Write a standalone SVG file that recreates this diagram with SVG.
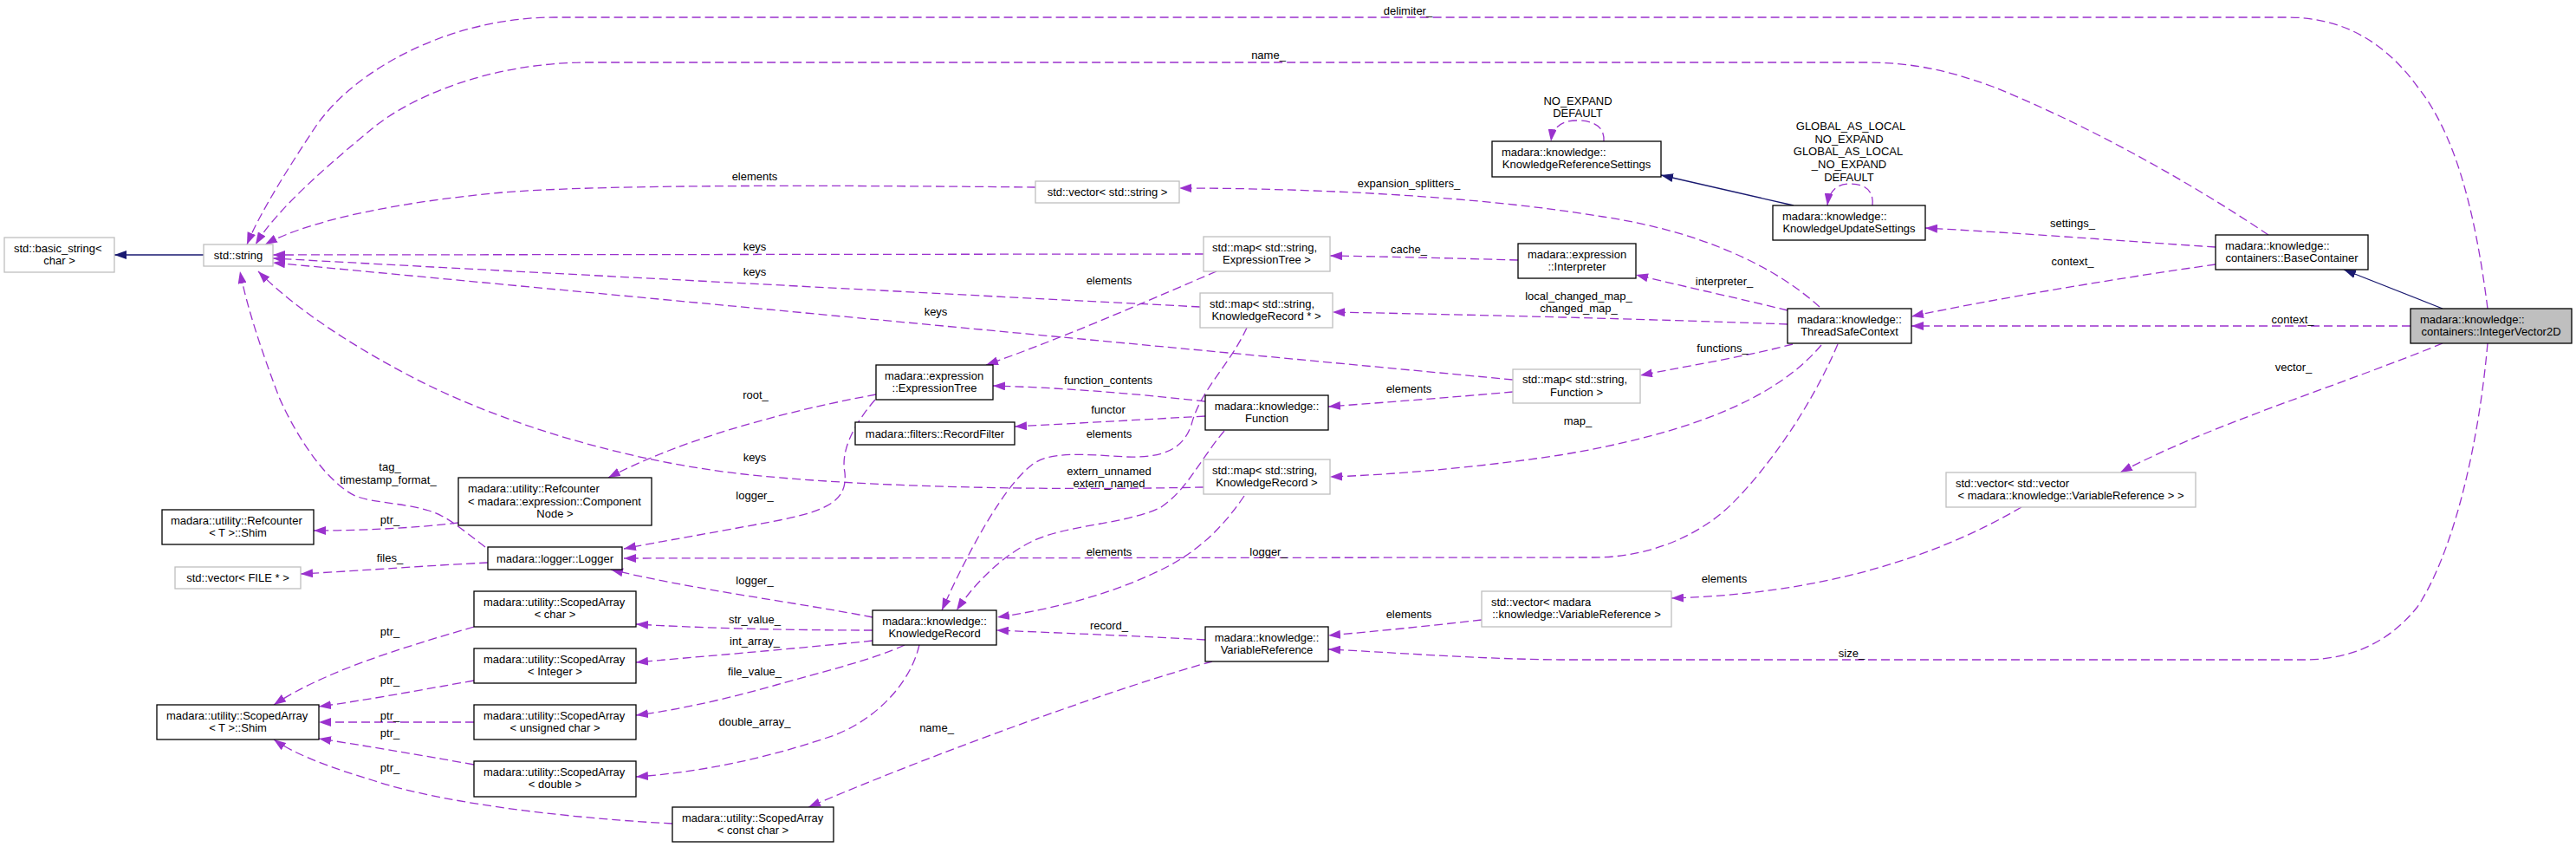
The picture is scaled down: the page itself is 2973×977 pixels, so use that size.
<svg xmlns="http://www.w3.org/2000/svg" width="2973" height="977" viewBox="0 0 2973 977">
<style>
text{font-family:"Liberation Sans",Arial,sans-serif;font-size:13px;fill:#000}
.n rect{fill:#fff;stroke:#000;stroke-width:1.3}
.n.u rect{stroke:#bfbfbf}
.n.cur rect{fill:#bfbfbf}
.m{text-anchor:middle}
.e path{fill:none;stroke:#9a32cd;stroke-width:1.3;stroke-dasharray:10,5}
.e text{text-anchor:middle}
.i path{fill:none;stroke:#191970;stroke-width:1.3}
</style>
<defs>
<marker id="ap" viewBox="0 0 14 10" refX="14" refY="5" markerWidth="14" markerHeight="10" markerUnits="userSpaceOnUse" orient="auto"><path d="M0,0 L14,5 L0,10 z" fill="#9a32cd"/></marker>
<marker id="an" viewBox="0 0 14 10" refX="14" refY="5" markerWidth="14" markerHeight="10" markerUnits="userSpaceOnUse" orient="auto"><path d="M0,0 L14,5 L0,10 z" fill="#191970"/></marker>
</defs>
<rect width="2973" height="977" fill="#fff"/>

<g id="edges">
<g class="i"><path d="M235,294 L132,294" marker-end="url(#an)"/></g>
<g class="i"><path d="M2070,237 L1917,202" marker-end="url(#an)"/></g>
<g class="i"><path d="M2819,356 L2705,311" marker-end="url(#an)"/></g>

<g class="e" id="e-delimiter"><path d="M2871,356 C2855,230 2830,150 2790,100 C2750,45 2700,20 2640,20 L640,20 C520,20 410,80 365,145 C335,190 300,245 285,282" marker-end="url(#ap)"/><text x="1625" y="16.5">delimiter_</text></g>
<g class="e" id="e-name"><path d="M2618,271 C2520,205 2400,140 2300,100 C2240,78 2200,72 2150,72 L680,72 C560,72 470,115 430,148 C385,185 320,240 295,282" marker-end="url(#ap)"/><text x="1464" y="67.5">name_</text></g>
<g class="e" id="e-vecstr"><path d="M1195,216 C1000,214 700,212 580,222 C470,232 360,252 306,282" marker-end="url(#ap)"/><text x="871" y="208">elements</text></g>
<g class="e"><path d="M1389,293 L315,294" marker-end="url(#ap)"/><text x="871" y="288.5">keys</text></g>
<g class="e"><path d="M1385,354 L1150,342 L500,308 L315,298" marker-end="url(#ap)"/><text x="871" y="317.5">keys</text></g>
<g class="e"><path d="M1746,438 L315,303" marker-end="url(#ap)"/><text x="1080" y="363.5">keys</text></g>
<g class="e"><path d="M1389,562 C1200,566 990,562 850,546 C700,528 560,480 470,432 C400,395 340,355 298,313" marker-end="url(#ap)"/><text x="871" y="531.5">keys</text></g>
<g class="e"><path d="M560,631 C530,608 515,595 495,589 C465,580 430,580 410,572 C380,558 345,510 322,458 C300,400 284,350 277,313" marker-end="url(#ap)"/><text x="450" y="542.5">tag_</text><text x="448" y="557.5">timestamp_format_</text></g>
<g class="e"><path d="M529,603 C480,609 420,612 362,612" marker-end="url(#ap)"/><text x="450" y="603.5">ptr_</text></g>
<g class="e"><path d="M563,649 C500,652 420,658 347,662" marker-end="url(#ap)"/><text x="450" y="647.5">files_</text></g>
<g class="e"><path d="M1011,455 C930,470 800,500 702,551" marker-end="url(#ap)"/><text x="872" y="459.5">root_</text></g>
<g class="e"><path d="M1010,461 C985,490 970,520 975,545 C978,575 960,588 900,600 C820,615 760,625 720,633" marker-end="url(#ap)"/><text x="871" y="575.5">logger_</text></g>
<g class="e"><path d="M2121,397 C2090,470 2040,540 2000,580 C1960,620 1900,643 1840,643 L720,644" marker-end="url(#ap)"/><text x="1464" y="640.5">logger_</text></g>
<g class="e"><path d="M1007,712 C920,695 800,680 705,657" marker-end="url(#ap)"/><text x="871" y="673.5">logger_</text></g>
<g class="e"><path d="M1007,727 C900,727 800,724 734,720" marker-end="url(#ap)"/><text x="871" y="718.5">str_value_</text></g>
<g class="e"><path d="M1007,739 C900,750 800,758 734,764" marker-end="url(#ap)"/><text x="871" y="743.5">int_array_</text></g>
<g class="e"><path d="M1044,744 C1010,760 950,775 896,790 C850,803 790,818 734,825" marker-end="url(#ap)"/><text x="871" y="778.5">file_value_</text></g>
<g class="e"><path d="M1061,744 C1050,790 1010,830 963,848 C900,870 820,890 734,896" marker-end="url(#ap)"/><text x="871" y="836.5">double_array_</text></g>
<g class="e"><path d="M547,723 C490,740 380,770 316,813" marker-end="url(#ap)"/><text x="450" y="732.5">ptr_</text></g>
<g class="e"><path d="M547,785 C480,797 420,808 368,815" marker-end="url(#ap)"/><text x="450" y="788.5">ptr_</text></g>
<g class="e"><path d="M547,833 L368,833" marker-end="url(#ap)"/><text x="450" y="829.5">ptr_</text></g>
<g class="e"><path d="M547,882 C480,870 420,860 368,852" marker-end="url(#ap)"/><text x="450" y="849.5">ptr_</text></g>
<g class="e"><path d="M776,950 C680,945 520,930 430,900 C380,885 340,870 316,853" marker-end="url(#ap)"/><text x="450" y="889.5">ptr_</text></g>
<g class="e"><path d="M1399,763 C1300,790 1100,860 933,931" marker-end="url(#ap)"/><text x="1081" y="843.5">name_</text></g>
<g class="e"><path d="M1391,738 C1300,733 1220,730 1150,727" marker-end="url(#ap)"/><text x="1280" y="725.5">record_</text></g>
<g class="e"><path d="M1710,715 C1650,722 1590,728 1533,733" marker-end="url(#ap)"/><text x="1626" y="712.5">elements</text></g>
<g class="e"><path d="M2871,396 C2860,520 2830,640 2790,700 C2750,750 2700,761 2658,761 L1800,761 C1700,760 1600,752 1533,749" marker-end="url(#ap)"/><text x="2137" y="757.5">size_</text></g>
<g class="e"><path d="M2333,585 C2230,645 2100,685 1929,690" marker-end="url(#ap)"/><text x="1990" y="672">elements</text></g>
<g class="e"><path d="M2819,396 C2700,445 2550,490 2447,545" marker-end="url(#ap)"/><text x="2647" y="427.5">vector_</text></g>
<g class="e"><path d="M2782,376 L2206,376" marker-end="url(#ap)"/><text x="2646" y="372.5">context_</text></g>
<g class="e"><path d="M2557,305 C2450,320 2300,345 2206,365" marker-end="url(#ap)"/><text x="2392" y="305.5">context_</text></g>
<g class="e"><path d="M2557,285 C2450,278 2320,268 2222,263" marker-end="url(#ap)"/><text x="2392" y="261.5">settings_</text></g>
<g class="e"><path d="M1851,163 C1852,145 1838,139 1820,139 C1803,139 1792,146 1790,163" marker-end="url(#ap)"/><text x="1821" y="120.5">NO_EXPAND</text><text x="1821" y="134.5">DEFAULT</text></g>
<g class="e"><path d="M2161,237 C2163,218 2150,212 2135,212 C2120,212 2111,220 2109,237" marker-end="url(#ap)"/><text x="2136" y="149.5">GLOBAL_AS_LOCAL</text><text x="2134" y="164.5">NO_EXPAND</text><text x="2133" y="178.5">GLOBAL_AS_LOCAL</text><text x="2134" y="193.5">_NO_EXPAND</text><text x="2134" y="208.5">DEFAULT</text></g>
<g class="e"><path d="M2063,358 C2010,345 1950,332 1888,317" marker-end="url(#ap)"/><text x="1990" y="328.5">interpreter_</text></g>
<g class="e"><path d="M2063,374 C1900,368 1700,363 1538,360" marker-end="url(#ap)"/><text x="1822" y="345.5">local_changed_map_</text><text x="1822" y="359.5">changed_map_</text></g>
<g class="e"><path d="M2069,397 C2020,410 1960,420 1893,433" marker-end="url(#ap)"/><text x="1988" y="405.5">functions_</text></g>
<g class="e"><path d="M2102,398 C2050,460 1950,500 1800,525 C1700,540 1600,548 1535,550" marker-end="url(#ap)"/><text x="1821" y="489.5">map_</text></g>
<g class="e"><path d="M2100,354 C2040,300 1950,265 1850,250 C1700,225 1500,217 1361,217" marker-end="url(#ap)"/><text x="1626" y="215.5">expansion_splitters_</text></g>
<g class="e"><path d="M1752,300 C1680,298 1600,296 1535,295" marker-end="url(#ap)"/><text x="1626" y="291.5">cache_</text></g>
<g class="e"><path d="M1404,313 C1340,340 1240,385 1138,421" marker-end="url(#ap)"/><text x="1280" y="327.5">elements</text></g>
<g class="e"><path d="M1439,378 C1420,420 1385,450 1375,490 C1365,520 1340,528 1300,527 C1250,524 1210,520 1190,537 C1160,560 1120,630 1087,704" marker-end="url(#ap)"/><text x="1280" y="504.5">elements</text></g>
<g class="e"><path d="M1391,463 C1300,453 1220,447 1146,445" marker-end="url(#ap)"/><text x="1279" y="442.5">function_contents</text></g>
<g class="e"><path d="M1391,480 C1300,485 1230,489 1171,492" marker-end="url(#ap)"/><text x="1279" y="476.5">functor</text></g>
<g class="e"><path d="M1746,452 C1680,458 1600,464 1533,469" marker-end="url(#ap)"/><text x="1626" y="452.5">elements</text></g>
<g class="e"><path d="M1413,497 C1385,530 1370,565 1340,585 C1300,605 1230,605 1190,625 C1150,645 1120,680 1104,704" marker-end="url(#ap)"/><text x="1280" y="547.5">extern_unnamed</text><text x="1280" y="561.5">extern_named</text></g>
<g class="e"><path d="M1436,572 C1410,610 1380,640 1330,662 C1270,690 1200,705 1151,712" marker-end="url(#ap)"/><text x="1280" y="640.5">elements</text></g>
</g>

<g id="n-basic_string" class="n u"><rect x="5" y="274" width="127" height="40"/><text x="16" y="290.5">std::basic_string&lt;</text><text class="m" x="68.5" y="305">char &gt;</text></g>
<g id="n-string" class="n u"><rect x="235" y="282" width="80" height="25"/><text class="m" x="275" y="299">std::string</text></g>
<g id="n-refcounter_shim" class="n"><rect x="187" y="588" width="175" height="40"/><text x="197" y="604.5">madara::utility::Refcounter</text><text class="m" x="274.5" y="619">&lt; T &gt;::Shim</text></g>
<g id="n-vector_file" class="n u"><rect x="202" y="654" width="145" height="25"/><text class="m" x="274.5" y="671">std::vector&lt; FILE * &gt;</text></g>
<g id="n-scopedarray_shim" class="n"><rect x="181" y="813" width="187" height="40"/><text x="192" y="829.5">madara::utility::ScopedArray</text><text class="m" x="274.5" y="844">&lt; T &gt;::Shim</text></g>
<g id="n-refcounter_cn" class="n"><rect x="529" y="551" width="223" height="55"/><text x="540" y="568">madara::utility::Refcounter</text><text x="540" y="582.5">&lt; madara::expression::Component</text><text class="m" x="640.5" y="597">Node &gt;</text></g>
<g id="n-logger" class="n"><rect x="563" y="631" width="155" height="26"/><text class="m" x="640.5" y="648.5">madara::logger::Logger</text></g>
<g id="n-sa_char" class="n"><rect x="547" y="682" width="187" height="41"/><text x="558" y="698.5">madara::utility::ScopedArray</text><text class="m" x="640.5" y="713">&lt; char &gt;</text></g>
<g id="n-sa_integer" class="n"><rect x="547" y="748" width="187" height="40"/><text x="558" y="764.5">madara::utility::ScopedArray</text><text class="m" x="640.5" y="779">&lt; Integer &gt;</text></g>
<g id="n-sa_uchar" class="n"><rect x="547" y="813" width="187" height="40"/><text x="558" y="829.5">madara::utility::ScopedArray</text><text class="m" x="640.5" y="844">&lt; unsigned char &gt;</text></g>
<g id="n-sa_double" class="n"><rect x="547" y="878" width="187" height="41"/><text x="558" y="894.5">madara::utility::ScopedArray</text><text class="m" x="640.5" y="909">&lt; double &gt;</text></g>
<g id="n-sa_constchar" class="n"><rect x="776" y="931" width="186" height="40"/><text x="787" y="947.5">madara::utility::ScopedArray</text><text class="m" x="869" y="962">&lt; const char &gt;</text></g>
<g id="n-expressiontree" class="n"><rect x="1011" y="421" width="135" height="40"/><text x="1021" y="437.5">madara::expression</text><text class="m" x="1078.5" y="452">::ExpressionTree</text></g>
<g id="n-recordfilter" class="n"><rect x="987" y="487" width="184" height="26"/><text class="m" x="1079" y="504.5">madara::filters::RecordFilter</text></g>
<g id="n-knowledgerecord" class="n"><rect x="1007" y="704" width="143" height="40"/><text class="m" x="1078.5" y="720.5">madara::knowledge::</text><text class="m" x="1078.5" y="735">KnowledgeRecord</text></g>
<g id="n-vector_string" class="n u"><rect x="1195" y="209" width="166" height="25"/><text class="m" x="1278" y="226">std::vector&lt; std::string &gt;</text></g>
<g id="n-map_et" class="n u"><rect x="1389" y="273" width="146" height="40"/><text x="1399" y="289.5">std::map&lt; std::string,</text><text class="m" x="1462" y="304">ExpressionTree &gt;</text></g>
<g id="n-map_krp" class="n u"><rect x="1385" y="338" width="153" height="40"/><text x="1396" y="354.5">std::map&lt; std::string,</text><text class="m" x="1461.5" y="369">KnowledgeRecord * &gt;</text></g>
<g id="n-function" class="n"><rect x="1391" y="456" width="142" height="40"/><text class="m" x="1462" y="472.5">madara::knowledge::</text><text class="m" x="1462" y="487">Function</text></g>
<g id="n-map_kr" class="n u"><rect x="1389" y="530" width="146" height="40"/><text x="1399" y="546.5">std::map&lt; std::string,</text><text class="m" x="1462" y="561">KnowledgeRecord &gt;</text></g>
<g id="n-variablereference" class="n"><rect x="1391" y="723" width="142" height="40"/><text class="m" x="1462" y="739.5">madara::knowledge::</text><text class="m" x="1462" y="754">VariableReference</text></g>
<g id="n-interpreter" class="n"><rect x="1752" y="281" width="136" height="40"/><text x="1763" y="297.5">madara::expression</text><text class="m" x="1820" y="312">::Interpreter</text></g>
<g id="n-krs" class="n"><rect x="1722" y="163" width="195" height="41"/><text x="1733" y="179.5">madara::knowledge::</text><text class="m" x="1819.5" y="194">KnowledgeReferenceSettings</text></g>
<g id="n-map_function" class="n u"><rect x="1746" y="426" width="147" height="39"/><text x="1757" y="442">std::map&lt; std::string,</text><text class="m" x="1819.5" y="456.5">Function &gt;</text></g>
<g id="n-vector_vr" class="n u"><rect x="1710" y="682" width="219" height="41"/><text x="1721" y="698.5">std::vector&lt; madara</text><text class="m" x="1819.5" y="713">::knowledge::VariableReference &gt;</text></g>
<g id="n-kus" class="n"><rect x="2046" y="237" width="176" height="40"/><text x="2057" y="253.5">madara::knowledge::</text><text class="m" x="2134" y="268">KnowledgeUpdateSettings</text></g>
<g id="n-tsc" class="n"><rect x="2063" y="356" width="143" height="40"/><text class="m" x="2134.5" y="372.5">madara::knowledge::</text><text class="m" x="2134.5" y="387">ThreadSafeContext</text></g>
<g id="n-basecontainer" class="n"><rect x="2557" y="271" width="176" height="40"/><text x="2568" y="287.5">madara::knowledge::</text><text class="m" x="2645" y="302">containers::BaseContainer</text></g>
<g id="n-vector_vector_vr" class="n u"><rect x="2246" y="545" width="288" height="40"/><text x="2257" y="561.5">std::vector&lt; std::vector</text><text class="m" x="2390" y="576">&lt; madara::knowledge::VariableReference &gt; &gt;</text></g>
<g id="n-integervector2d" class="n cur"><rect x="2782" y="356" width="186" height="40"/><text x="2793" y="372.5">madara::knowledge::</text><text class="m" x="2875" y="387">containers::IntegerVector2D</text></g>
</svg>
